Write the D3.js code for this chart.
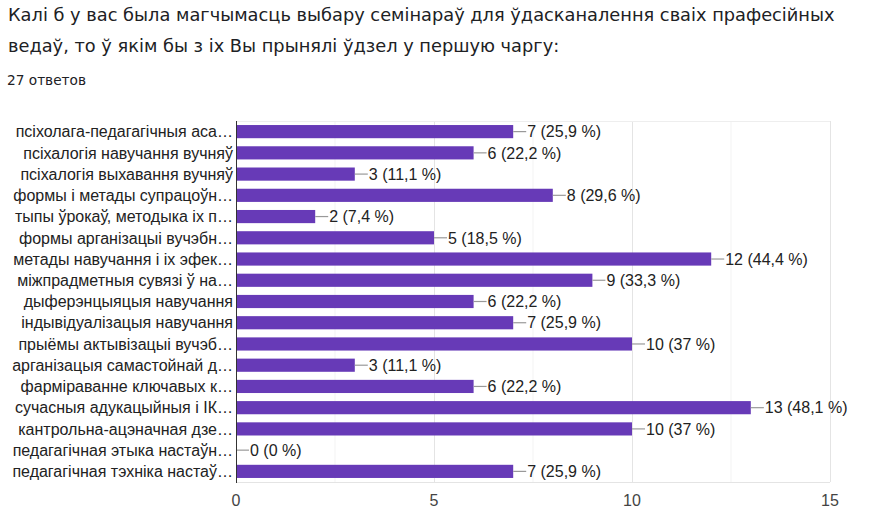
<!DOCTYPE html>
<html>
<head>
<meta charset="utf-8">
<script src="https://cdn.jsdelivr.net/npm/d3@7"></script>
<style>
  body { margin: 0; background: #fff; }
  svg { display: block; }
</style>
</head>
<body>
<div class="container"></div>
<script>
const width = 879;
const height = 529;

const titleLines = [
  'Калі б у вас была магчымасць выбару семінараў для ўдасканалення сваіх прафесійных',
  'ведаў, то ў якім бы з іх Вы прынялі ўдзел у першую чаргу:',
];
const subtitle = '27 ответов';

const categories = [
  'псіхолага-педагагічныя аса…',
  'псіхалогія навучання вучняў',
  'псіхалогія выхавання вучняў',
  'формы і метады супрацоўн…',
  'тыпы ўрокаў, методыка іх п…',
  'формы арганізацыі вучэбн…',
  'метады навучання і іх эфек…',
  'міжпрадметныя сувязі ў на…',
  'дыферэнцыяцыя навучання',
  'індывідуалізацыя навучання',
  'прыёмы актывізацыі вучэб…',
  'арганізацыя самастойнай д…',
  'фарміраванне ключавых к…',
  'сучасныя адукацыйныя і ІК…',
  'кантрольна-ацэначная дзе…',
  'педагагічная этыка настаўн…',
  'педагагічная тэхніка настаў…',
];
const values = [7, 6, 3, 8, 2, 5, 12, 9, 6, 7, 10, 3, 6, 13, 10, 0, 7];
const percents = ['25,9', '22,2', '11,1', '29,6', '7,4', '18,5', '44,4', '33,3', '22,2',
  '25,9', '37', '11,1', '22,2', '48,1', '37', '0', '25,9'];
const ticks = [0, 5, 10, 15];
const minorTicks = [2.5, 7.5, 12.5];

const plotLeft = 236;
const plotRight = 830;
const plotTop = 121;
const plotBottom = 482;

const x = d3.scaleLinear().domain([0, 15]).range([plotLeft, plotRight]);
const y = d3.scaleBand()
  .domain(d3.range(categories.length))
  .range([plotTop, plotBottom])
  .paddingInner(0.38)
  .paddingOuter(0.19);

const svg = d3.select('.container')
  .append('svg')
  .attr('width', width)
  .attr('height', height)
  .style('font-family', '"Liberation Sans", Arial, sans-serif');

svg.append('rect').attr('width', width).attr('height', height).attr('fill', '#fff');

// title
svg.append('g')
  .selectAll('text')
  .data(titleLines)
  .enter()
  .append('text')
  .attr('x', 8)
  .attr('y', (_, i) => 21 + i * 31)
  .attr('fill', '#202124')
  .style('font-family', '"DejaVu Sans", sans-serif')
  .style('font-size', '17.8px')
  .text(d => d);

svg.append('text')
  .attr('x', 7)
  .attr('y', 85)
  .attr('fill', '#202124')
  .style('font-family', '"DejaVu Sans", sans-serif')
  .style('font-size', '13.7px')
  .text(subtitle);

// grid
svg.append('g')
  .selectAll('line')
  .data(minorTicks)
  .enter()
  .append('line')
  .attr('x1', d => x(d))
  .attr('x2', d => x(d))
  .attr('y1', plotTop)
  .attr('y2', plotBottom)
  .attr('stroke', '#f3f3f3');

svg.append('g')
  .selectAll('line')
  .data(ticks.slice(1))
  .enter()
  .append('line')
  .attr('x1', d => x(d) + 0.5)
  .attr('x2', d => x(d) + 0.5)
  .attr('y1', plotTop)
  .attr('y2', plotBottom)
  .attr('stroke', '#e4e4e4');

svg.append('line')
  .attr('x1', plotLeft).attr('x2', plotRight)
  .attr('y1', plotTop + 0.5).attr('y2', plotTop + 0.5)
  .attr('stroke', '#eeeeee');
svg.append('line')
  .attr('x1', plotLeft).attr('x2', plotRight)
  .attr('y1', plotBottom + 0.5).attr('y2', plotBottom + 0.5)
  .attr('stroke', '#e4e4e4');

// x axis labels
svg.append('g')
  .selectAll('text')
  .data(ticks)
  .enter()
  .append('text')
  .attr('x', d => x(d))
  .attr('y', 506)
  .attr('text-anchor', 'middle')
  .attr('fill', '#444')
  .style('font-size', '16px')
  .text(d => d);

// bars
const rows = svg.append('g')
  .selectAll('g')
  .data(values)
  .enter()
  .append('g');

rows.append('rect')
  .attr('x', x(0))
  .attr('y', (_, i) => y(i))
  .attr('width', d => x(d) - x(0))
  .attr('height', y.bandwidth())
  .attr('fill', '#673ab7');

rows.append('line')
  .attr('x1', d => x(d))
  .attr('x2', d => x(d) + 13)
  .attr('y1', (_, i) => y(i) + y.bandwidth() / 2)
  .attr('y2', (_, i) => y(i) + y.bandwidth() / 2)
  .attr('stroke', '#999')
  .attr('stroke-width', 1.2);

rows.append('text')
  .attr('x', d => x(d) + 14)
  .attr('y', (_, i) => y(i) + y.bandwidth() / 2)
  .attr('dy', '0.36em')
  .attr('fill', '#222')
  .style('font-size', '16px')
  .text((d, i) => `${d} (${percents[i]} %)`);

// category labels
svg.append('g')
  .selectAll('text')
  .data(categories)
  .enter()
  .append('text')
  .attr('x', 233)
  .attr('y', (_, i) => y(i) + y.bandwidth() / 2)
  .attr('dy', '0.36em')
  .attr('text-anchor', 'end')
  .attr('fill', '#222')
  .style('font-size', '16px')
  .text(d => d);

// axis line
svg.append('line')
  .attr('x1', plotLeft + 0.5).attr('x2', plotLeft + 0.5)
  .attr('y1', plotTop).attr('y2', plotBottom + 1)
  .attr('stroke', '#333');
</script>
</body>
</html>
